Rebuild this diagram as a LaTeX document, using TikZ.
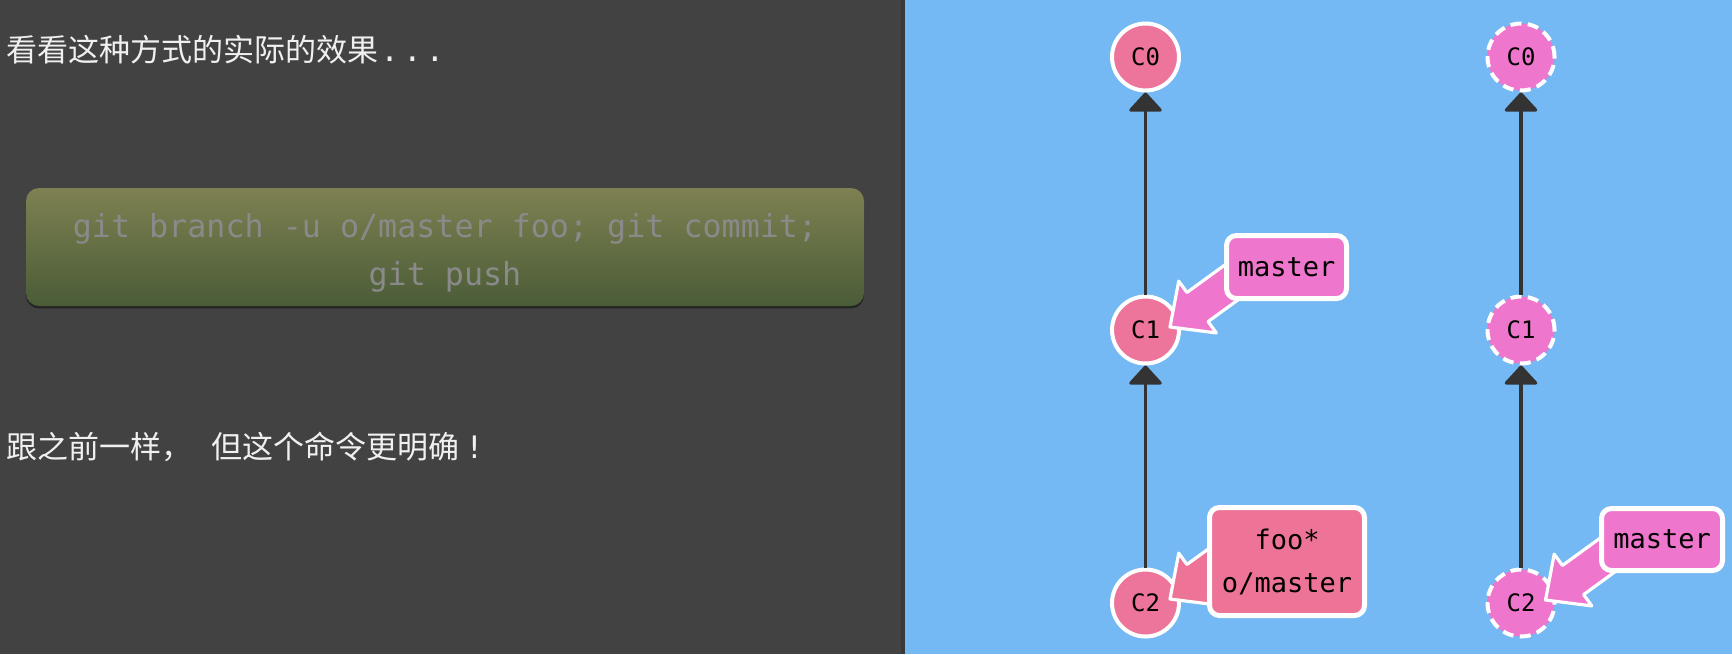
\documentclass[tikz,border=0pt]{standalone}
\usepackage{fontspec}
\newfontfamily\cjk{Noto Sans CJK SC}
\newfontfamily\mono{DejaVu Sans Mono}
\usetikzlibrary{calc,arrows.meta,shadows}
\pgfdeclarelayer{bglayer}
\pgfdeclarelayer{ptrlayer}
\pgfdeclarelayer{frontlayer}
\pgfsetlayers{bglayer,main,ptrlayer,frontlayer}
\definecolor{darkbg}{HTML}{424242}
\definecolor{edgebg}{HTML}{393939}
\definecolor{bluebg}{HTML}{74B9F4}
\definecolor{cmdtop}{HTML}{7E8151}
\definecolor{cmdbot}{HTML}{4A5C37}
\definecolor{cmdtext}{HTML}{8A8A8A}
\definecolor{commitpink}{HTML}{ED749A}
\definecolor{commitmag}{HTML}{EE76CC}
\definecolor{foopink}{HTML}{ED7496}
\definecolor{linegray}{HTML}{333333}
\definecolor{softwhite}{HTML}{F0F0F0}
\tikzset{
  commit/.style={circle, draw=white, line width=2pt, fill=commitpink, minimum size=33.5pt,
    inner sep=0pt, font=\mono\fontsize{12}{14}\selectfont, text=black},
  ghost/.style={commit, fill=commitmag, dash pattern=on 5.5pt off 3.2pt},
  branchlabel/.style={rectangle, rounded corners=5pt, draw=white, line width=2.5pt, inner sep=0pt,
    font=\mono\fontsize{13.5}{21.5}\selectfont, align=center, text=black},
  ptr/.style={draw=white, line width=1.6pt, line join=round},
  conn/.style={draw=linegray, line width=1.65pt, -{Triangle[width=18pt,length=10pt,round]}},
  infotext/.style={inner sep=0pt, text=softwhite, font={\fontsize{15.5}{18}\selectfont\cjk}},
  cmdbox/.style={rectangle, rounded corners=6.5pt, top color=cmdtop, bottom color=cmdbot,
    minimum width=419pt, minimum height=59pt, inner sep=0pt,
    drop shadow={shadow xshift=0pt, shadow yshift=-1.2pt, fill=black, opacity=0.45}},
  cmdtextstyle/.style={inner sep=0pt, text=cmdtext, align=center,
    font={\mono\fontsize{15.85}{24}\selectfont}}
}
\newcommand\drawptr[3]{%
  \coordinate (#1h) at ($(#1)!17pt!(#2)$);
  \draw[ptr, fill=#3] (#1)
    -- ($(#1h)!16pt!90:(#2)$)
    -- ($(#1h)!9pt!90:(#2)$)
    -- ($(#2)!9pt!-90:(#1h)$)
    -- ($(#2)!9pt!90:(#1h)$)
    -- ($(#1h)!9pt!-90:(#2)$)
    -- ($(#1h)!16pt!-90:(#2)$)
    -- cycle;}
\begin{document}
\begin{tikzpicture}[x=0.5pt, y=-0.5pt]
\useasboundingbox (0,0) rectangle (1732,654);
\begin{pgfonlayer}{bglayer}
  \fill[darkbg] (0,0) rectangle (905,654);
  \fill[edgebg] (901,0) rectangle (905,654);
  \fill[bluebg] (905,0) rectangle (1732,654);
\end{pgfonlayer}

% left panel
\node[infotext, anchor=base west] (info1) at (6,61) {看看这种方式的实际的效果{\mono\kern1pt.\kern2pt.\kern2pt.}};
\node[cmdbox] (cmd) at (445,247) {};
\node[cmdtextstyle] (cmdtxt) at (445,253) {git branch -u o/master foo; git commit;\\git push};
\node[infotext, anchor=base west] (info2) at (6,458) {跟之前一样，{\mono\ }但这个命令更明确{\mono\kern3pt!}};

% left tree
\node[commit] (c0L) at (1145.5,57) {C0};
\node[commit] (c1L) at (1145.5,330) {C1};
\node[commit] (c2L) at (1145.5,603) {C2};
\draw[conn] (c1L) -- (c0L);
\draw[conn] (c2L) -- (c1L);

% right tree
\node[ghost] (c0R) at (1521,57) {C0};
\node[ghost] (c1R) at (1521,330) {C1};
\node[ghost] (c2R) at (1521,603) {C2};
\draw[conn] (c1R) -- (c0R);
\draw[conn] (c2R) -- (c1R);

% branch labels
\begin{pgfonlayer}{frontlayer}
  \node[branchlabel, fill=commitmag, minimum width=60pt, minimum height=31.5pt] (mL) at (1286.5,267) {master};
  \node[branchlabel, fill=foopink, minimum width=77.5pt, minimum height=54pt] (fooL) at (1287,561.5) {foo*\\o/master};
  \node[branchlabel, fill=commitmag, minimum width=60.5pt, minimum height=31pt] (mR) at (1662,539.5) {master};
\end{pgfonlayer}

% pointer arrows
\begin{pgfonlayer}{ptrlayer}
  \coordinate (tA) at ($(c1L.center)+(24.5,-3)$);
  \coordinate (sA) at ($(tA)+(-36:85)$);
  \drawptr{tA}{sA}{commitmag}
  \coordinate (tB) at ($(c2L.center)+(24.5,-4)$);
  \coordinate (sB) at ($(tB)+(-36:85)$);
  \drawptr{tB}{sB}{foopink}
  \coordinate (tC) at ($(c2R.center)+(24.5,-3)$);
  \coordinate (sC) at ($(tC)+(-36:85)$);
  \drawptr{tC}{sC}{commitmag}
\end{pgfonlayer}
\end{tikzpicture}
\end{document}
